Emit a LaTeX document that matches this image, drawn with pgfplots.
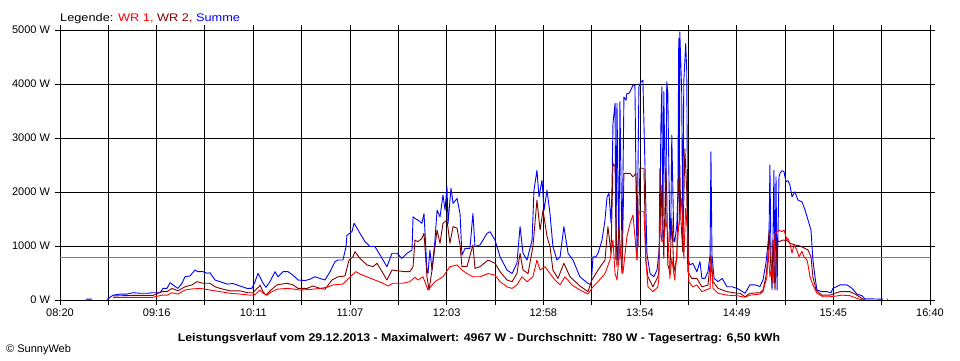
\documentclass[border=0pt]{standalone}
\usepackage{fontspec}
\setmainfont{Liberation Sans}
\newfontfamily\widefont[FakeStretch=1.16]{Liberation Sans}
\newfontfamily\titlefont[FakeStretch=1.10]{Liberation Sans}
\usepackage{pgfplots}
\pgfplotsset{compat=1.18}
\definecolor{wrone}{RGB}{255,0,0}
\definecolor{wrtwo}{RGB}{128,0,0}
\definecolor{summe}{RGB}{0,0,255}
\definecolor{avg}{RGB}{128,128,128}
\begin{document}
\begin{tikzpicture}[x=1pt,y=1pt,font=\fontsize{11}{13}\selectfont]
\path[use as bounding box, fill=white] (0,0) rectangle (960,360);
\begin{axis}[
  at={(60pt,60pt)}, anchor=south west,
  scale only axis, width=870pt, height=270pt,
  xmin=500, xmax=1000, ymin=0, ymax=5000,
  xtick={500,527.78,555.56,583.33,611.11,638.89,666.67,694.44,722.22,750,777.78,805.56,833.33,861.11,888.89,916.67,944.44,972.22,1000},
  xticklabels={08:20,,09:16,,10:11,,11:07,,12:03,,12:58,,13:54,,14:49,,15:45,,16:40},
  ytick={0,1000,2000,3000,4000,5000},
  yticklabels={0 W,1000 W,2000 W,3000 W,4000 W,5000 W},
  tick align=outside, major tick length=5pt,
  tick style={black, line width=1pt},
  grid=major, major grid style={black, line width=1pt},
  axis line style={black, line width=1pt},
  tick label style={font=\fontsize{11}{13}\selectfont},
  yticklabel style={xshift=-1.5pt},
  unbounded coords=jump,
  every axis plot/.append style={line width=0.9pt, line join=round},
]
\addplot[avg, line width=1pt] coordinates {(500,780) (1000,780)};
% Summe
\addplot[summe] coordinates {
(514.9,15) (518.4,15) (518.5,nan) (527.0,10) (530.5,90) (534.5,110) (538.5,110) (542.0,135) (546.0,125) (550.0,125) (553.4,135) (557.5,135)
(559.2,215) (561.5,215) (563.2,320) (564.9,280) (567.8,215) (570.1,310) (571.8,430) (574.7,445) (577.6,555) (579.3,525) (582.2,525)
(584.5,495) (586.2,505) (589.1,370) (592.0,340) (596.0,295) (599.4,305) (603.4,260) (607.5,215) (610.3,215) (612.1,340) (613.8,495)
(616.7,310) (618.4,235) (620.7,340) (623.6,525) (625.3,430) (628.2,525) (631.0,525) (633.9,460) (636.8,370) (640.8,360) (643.7,385)
(646.5,430) (649.4,400) (652.3,370) (655.2,525) (658.0,710) (659.8,740) (662.6,740) (664.4,990) (664.9,1200) (667.8,1265) (669.0,1420)
(670.7,1330) (672.4,1235) (675.3,1080) (678.2,990) (681.0,990) (683.9,835) (687.9,617) (690.8,865) (693.7,865) (696.5,770) (699.4,865)
(702.3,925) (702.9,1540) (704.0,1510) (705.7,1480) (708.0,1420) (709.2,1600) (710.9,555) (711.5,490) (712.6,925) (713.8,555) (715.5,1110)
(716.7,1665) (718.4,1540) (720.1,1945) (721.3,1665) (722.4,2100) (723.0,1420) (724.7,2070) (725.9,1790) (728.2,1880) (729.9,1600)
(731.0,830) (732.8,955) (735.6,955) (737.3,1600) (738.5,990) (741.4,1020) (745.4,1235) (747.1,1265) (750.0,1110) (752.9,800) (756.9,555)
(759.8,490) (762.6,680) (764.4,1360) (766.1,865) (768.4,740) (771.3,1110) (772.4,2035) (774.1,2400) (775.3,1910) (777.0,2220) (778.2,1665)
(779.9,2035) (781.6,1600) (783.3,990) (785.6,740) (787.4,800) (789.6,1360) (792.0,865) (794.8,740) (798.8,430) (802.9,320) (803.4,310)
(805.2,280) (805.7,490) (806.3,800) (808.0,800) (809.2,865) (811.5,1110) (813.2,1480) (814.4,1910) (815.5,1975) (816.7,1420) (817.2,2035)
(817.8,3270) (819.0,3640) (819.5,740) (820.1,3640) (821.2,740) (821.8,3670) (823.0,860) (824.1,3760) (825.3,3700) (825.8,3825) (827.0,3825)
(828.1,3890) (829.3,3980) (830.4,3980) (831.6,740) (832.7,3950) (833.9,4040) (835.0,4070) (836.2,2470) (837.3,865) (839.1,490) (841.3,430)
(843.1,555) (844.2,865) (844.8,1200) (845.3,3180) (845.9,3950) (846.5,1140) (847.0,3860) (848.2,1390) (848.7,4040) (849.3,3860) (850.5,1080)
(851.0,1265) (851.6,3050) (852.8,1080) (853.3,1080) (854.5,1390) (855.1,2010) (855.6,4840) (855.9,1390) (856.2,4967) (857.3,3860) (857.9,1140)
(858.5,4040) (859.6,4750) (860.2,4230) (860.8,770) (862.0,650) (863.7,680) (866.0,525) (867.8,710) (868.9,400) (870.7,400) (872.4,525)
(873.6,835) (874.1,2745) (874.7,835) (875.9,400) (878.2,340) (880.5,400) (883.3,245) (886.2,245) (889.1,215) (890.8,185) (893.7,125)
(896.5,280) (899.4,280) (902.3,250) (904.0,370) (905.7,680) (906.9,1050) (907.5,1235) (908.0,2500) (908.6,800) (909.2,185) (909.8,1235)
(910.3,2400) (910.9,310) (911.5,2280) (912.1,185) (913.2,2280) (913.8,2345) (914.9,2395) (916.1,2375) (917.2,2190) (918.4,2210) (919.5,2130)
(920.7,1910) (922.4,2005) (924.1,1850) (926.4,1820) (928.2,1665) (929.9,1480) (931.6,1295) (932.7,740) (933.9,430) (935.0,185) (937.9,155)
(940.8,155) (943.1,135) (944.2,215) (948.3,280) (952.3,280) (955.2,215) (958.0,110) (960.9,80) (962.6,20) (967.2,20) (973.0,15)
(973.1,nan) (975.3,15) (975.8,15)
};
% WR 2
\addplot[wrtwo] coordinates {
(530.5,75) (542.0,85) (553.4,85) (558.6,155) (561.5,155) (564.4,215) (567.8,170) (571.8,245) (575.9,280) (578.7,340) (582.2,310) (586.2,310)
(589.1,245) (592.0,215) (597.7,170) (603.4,170) (608.0,135) (610.9,135) (613.2,215) (614.4,245) (614.9,280) (616.7,155) (618.4,90) (620.7,170)
(624.7,280) (630.5,310) (633.9,280) (636.8,215) (642.0,215) (645.4,260) (649.4,215) (652.3,200) (656.3,370) (659.8,430) (663.8,445) (666.1,740)
(668.4,800) (669.5,895) (672.4,770) (676.4,650) (679.9,617) (682.2,680) (685.1,525) (687.9,370) (690.8,555) (694.2,540) (698.3,525) (701.1,525)
(702.9,617) (704.0,1110) (705.7,1080) (708.0,1140) (709.2,1235) (710.9,430) (712.1,185) (713.8,555) (715.5,990) (716.7,1295) (718.4,1050)
(720.1,1420) (722.4,1480) (724.1,1050) (725.9,1360) (728.2,1330) (729.9,1020) (731.0,617) (733.9,617) (737.3,1020) (738.5,585) (741.4,617)
(746.0,740) (750.0,680) (752.9,525) (756.9,370) (759.8,340) (762.6,490) (764.4,865) (766.1,555) (769.0,490) (771.8,990) (774.1,1850)
(775.9,1295) (777.6,1665) (779.9,1175) (781.6,990) (783.3,555) (786.2,400) (789.6,680) (793.1,430) (798.8,260) (803.4,155) (805.7,370)
(809.2,555) (813.2,740) (814.9,1360) (816.7,860) (817.8,2530) (819.0,2470) (820.1,617) (821.2,1360) (823.0,490) (824.1,2345) (825.8,2345)
(827.6,2345) (829.3,2280) (831.0,2345) (832.2,990) (833.3,2440) (835.6,2440) (836.7,740) (837.9,430) (840.8,245) (843.6,430) (844.2,525)
(844.8,2440) (845.3,1390) (845.9,2130) (847.0,770) (848.2,2440) (848.7,2010) (849.3,650) (850.5,525) (851.6,1510) (852.8,525) (854.5,770)
(855.1,1880) (856.2,2500) (856.8,1510) (857.9,890) (859.1,2800) (860.2,2010) (860.8,525) (863.1,400) (866.0,400) (868.9,245) (872.4,275)
(874.1,835) (875.3,340) (878.2,215) (883.3,155) (889.1,125) (890.8,125) (893.7,60) (896.5,125) (902.3,135) (904.0,185) (905.7,430)
(906.9,800) (907.5,1295) (908.0,925) (909.2,310) (909.8,1110) (910.9,185) (912.1,1110) (913.2,1080) (915.5,1110) (917.8,1100) (919.5,1050)
(922.4,1020) (925.3,1000) (928.2,955) (929.9,925) (931.6,800) (932.7,430) (934.5,185) (937.9,90) (942.5,90) (945.4,125) (948.3,155)
(954.0,155) (956.9,110) (960.9,30) (962.6,0)
};
% WR 1
\addplot[wrone] coordinates {
(530.5,45) (542.0,50) (553.4,50) (558.6,90) (561.5,90) (564.4,135) (567.8,110) (571.8,185) (575.9,205) (580.5,215) (586.2,185) (592.0,155)
(597.7,125) (603.4,110) (609.2,90) (612.1,100) (614.4,170) (614.9,185) (616.7,125) (619.0,90) (620.7,135) (624.7,200) (630.5,215) (633.9,205)
(637.9,185) (643.7,195) (649.4,215) (653.4,235) (656.9,280) (662.6,295) (664.9,370) (667.8,460) (670.1,525) (672.4,480) (676.4,430)
(681.0,370) (685.6,310) (688.5,260) (691.4,310) (697.1,310) (701.1,340) (704.0,420) (705.7,370) (708.6,430) (711.5,185) (715.5,340)
(720.1,430) (724.1,617) (728.2,650) (731.0,555) (733.9,490) (737.3,430) (741.4,430) (746.0,490) (750.0,460) (752.9,340) (756.9,245)
(759.8,215) (762.6,280) (765.5,430) (768.4,340) (771.8,430) (774.1,740) (775.9,555) (778.7,617) (781.6,490) (784.5,370) (787.4,280)
(790.2,430) (794.2,280) (798.8,185) (803.4,110) (806.3,245) (809.2,340) (813.2,490) (816.1,740) (817.8,1110) (819.0,490) (820.1,370)
(821.8,990) (823.5,490) (825.8,1170) (827.6,1420) (829.3,1575) (831.6,740) (832.7,1635) (835.6,1635) (836.7,740) (837.9,245) (840.8,155)
(843.6,245) (844.2,400) (844.8,1510) (845.9,1080) (847.0,1140) (848.2,1450) (849.3,1265) (850.5,400) (851.6,770) (853.3,370) (854.5,890)
(855.6,1390) (857.3,1880) (858.5,770) (859.6,1700) (860.8,1200) (861.4,340) (863.7,245) (866.0,280) (868.9,155) (873.6,215) (874.1,770)
(875.3,215) (878.2,125) (883.3,90) (889.1,80) (893.7,50) (896.5,90) (902.3,110) (904.0,155) (906.3,430) (906.9,925) (908.0,430) (909.2,620)
(909.8,310) (910.9,1235) (912.1,1265) (913.2,1295) (914.9,1265) (916.1,1295) (917.8,1110) (918.4,1140) (919.5,1050) (920.7,865) (921.8,1020)
(923.5,925) (924.7,800) (926.4,900) (927.6,800) (929.3,740) (929.9,650) (931.0,430) (932.7,280) (935.0,125) (938.5,60) (942.5,60) (946.5,75)
(949.4,90) (954.0,80) (958.0,30) (961.5,0)
};
\end{axis}
\node[anchor=base west, inner sep=0pt, font=\fontsize{11}{13}\widefont] at (60,339) {Legende: \textcolor{wrone}{WR 1,} \textcolor{wrtwo}{WR 2,} \textcolor{summe}{Summe}};
\node[anchor=base, inner sep=0pt, font=\fontsize{11.2}{13}\titlefont\bfseries] at (479,19) {Leistungsverlauf vom 29.12.2013 - Maximalwert: 4967 W - Durchschnitt: 780 W - Tagesertrag: 6,50 kWh};
\node[anchor=base west, inner sep=0pt] at (6,8) {\textcopyright{} SunnyWeb};
\end{tikzpicture}
\end{document}
